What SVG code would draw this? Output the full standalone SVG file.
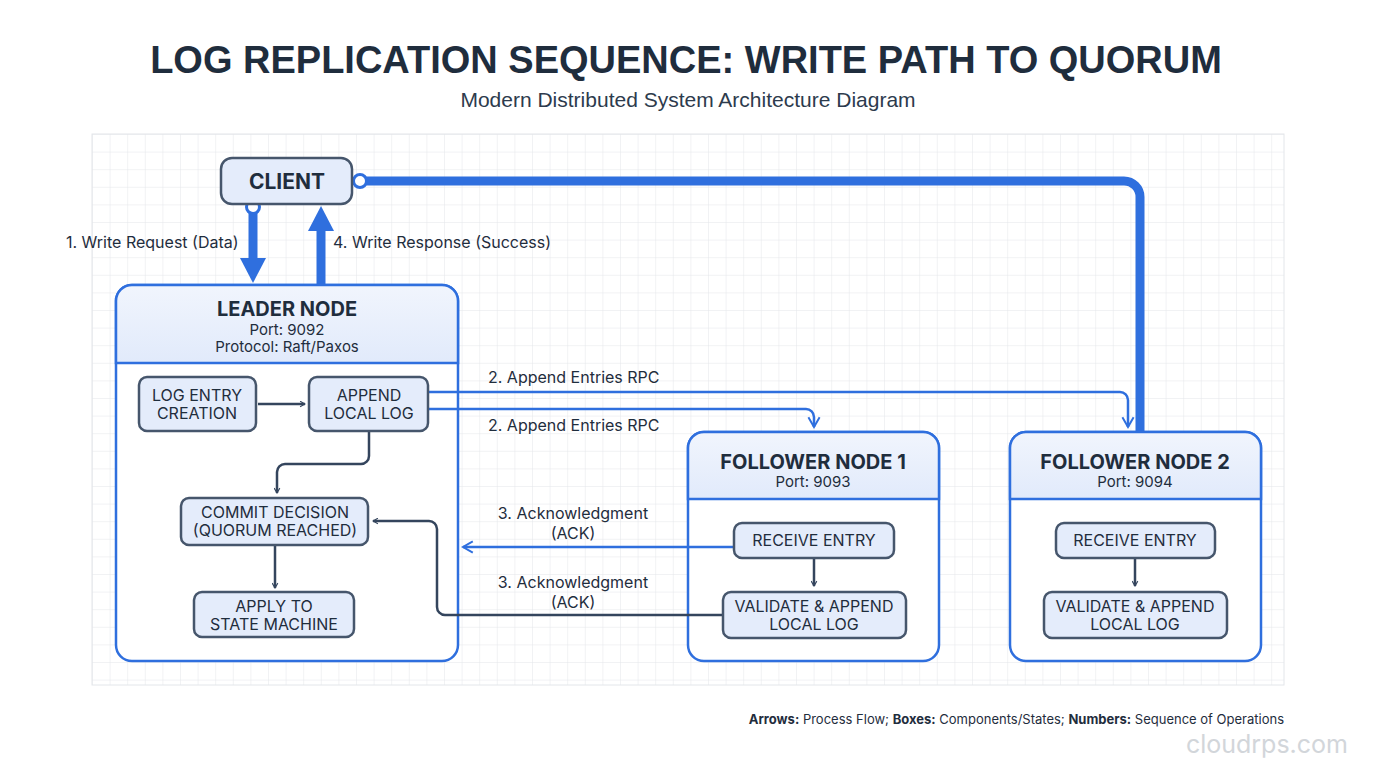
<svg xmlns="http://www.w3.org/2000/svg" width="1376" height="768" viewBox="0 0 1376 768">
<defs>
<pattern id="grid" x="92" y="134" width="17.6" height="17.6" patternUnits="userSpaceOnUse">
<path d="M17.6 0H0V17.6" fill="none" stroke="#e3e6ea" stroke-width="1"/>
</pattern>
<linearGradient id="hd" x1="0" y1="0" x2="0" y2="1"><stop offset="0" stop-color="#f1f5fd"/><stop offset="1" stop-color="#e1eafb"/></linearGradient>
<marker id="ad" viewBox="0 0 10 10" refX="8" refY="5" markerWidth="7" markerHeight="7" orient="auto" markerUnits="userSpaceOnUse"><path d="M1 1L8 5L1 9" fill="none" stroke="#34455d" stroke-width="1.6"/></marker>
<marker id="ab2" viewBox="0 0 10 10" refX="8" refY="5" markerWidth="14" markerHeight="14" orient="auto" markerUnits="userSpaceOnUse"><path d="M1 1L8 5L1 9" fill="none" stroke="#2f6fde" stroke-width="1.4"/></marker>
</defs>
<style>
.t{font-family:Inter,"Liberation Sans",sans-serif;fill:#1f2d3d}
.big{font-weight:700;font-size:20px}
.sub{font-size:15px}
.box{fill:#e4ecfb;stroke:#46566c;stroke-width:2.5}
.inner{font-size:16px;text-anchor:middle}
.lbl{font-size:16px}
.node{fill:#fff;stroke:#2f6fde;stroke-width:2.5}
</style>
<rect width="1376" height="768" fill="#fff"/>
<rect x="92" y="134" width="1192" height="551" fill="url(#grid)" stroke="#e3e6ea"/>
<text x="686" y="73" text-anchor="middle" font-family="'Liberation Sans',Arial,sans-serif" font-size="38" font-weight="700" fill="#1f2d3d">LOG REPLICATION SEQUENCE: WRITE PATH TO QUORUM</text>
<text x="688" y="107" text-anchor="middle" font-family="'Liberation Sans',Arial,sans-serif" font-size="21" fill="#2d3b4d">Modern Distributed System Architecture Diagram</text>

<g id="leader">
<rect class="node" x="116" y="285" width="342" height="376" rx="16"/>
<path d="M116 363V301a16 16 0 0 1 16-16h310a16 16 0 0 1 16 16v62z" fill="url(#hd)" stroke="#2f6fde" stroke-width="2.5"/>
<text class="t big" x="287" y="316" text-anchor="middle">LEADER NODE</text>
<text class="t sub" x="287" y="335" text-anchor="middle">Port: 9092</text>
<text class="t sub" x="287" y="352" text-anchor="middle">Protocol: Raft/Paxos</text>
</g>
<g id="follower1">
<rect class="node" x="688" y="432" width="251" height="229" rx="16"/>
<path d="M688 499V448a16 16 0 0 1 16-16h219a16 16 0 0 1 16 16v51z" fill="url(#hd)" stroke="#2f6fde" stroke-width="2.5"/>
<text class="t big" x="813" y="469" text-anchor="middle">FOLLOWER NODE 1</text>
<text class="t sub" x="813" y="487" text-anchor="middle">Port: 9093</text>
</g>
<g id="follower2">
<rect class="node" x="1010" y="432" width="251" height="229" rx="16"/>
<path d="M1010 499V448a16 16 0 0 1 16-16h219a16 16 0 0 1 16 16v51z" fill="url(#hd)" stroke="#2f6fde" stroke-width="2.5"/>
<text class="t big" x="1135" y="469" text-anchor="middle">FOLLOWER NODE 2</text>
<text class="t sub" x="1135" y="487" text-anchor="middle">Port: 9094</text>
</g>

<g id="connectors" fill="none">
<path d="M253 206V262" stroke="#2f6fde" stroke-width="9"/>
<path d="M240 258H266L253 283Z" fill="#2f6fde"/>
<path d="M321 285V228" stroke="#2f6fde" stroke-width="9"/>
<path d="M308 231H334L321 206Z" fill="#2f6fde"/>
<path d="M360 181H1124a16 16 0 0 1 16 16V432" stroke="#2f6fde" stroke-width="9"/>
<circle cx="253" cy="207" r="6.5" fill="#fff" stroke="#2f6fde" stroke-width="3"/>
<circle cx="360" cy="181" r="6.5" fill="#fff" stroke="#2f6fde" stroke-width="3"/>
<path d="M428 392H1120a8 8 0 0 1 8 8V427" stroke="#2f6fde" stroke-width="2.5" marker-end="url(#ab2)"/>
<path d="M428 409H806a8 8 0 0 1 8 8V427" stroke="#2f6fde" stroke-width="2.5" marker-end="url(#ab2)"/>
<path d="M258 404H305" stroke="#34455d" stroke-width="2.5" marker-end="url(#ad)"/>
<path d="M369 432V456a8 8 0 0 1-8 8H285a8 8 0 0 0-8 8V493" stroke="#34455d" stroke-width="2.5" marker-end="url(#ad)"/>
<path d="M275 545V588" stroke="#34455d" stroke-width="2.5" marker-end="url(#ad)"/>
<path d="M734 547H463" stroke="#2f6fde" stroke-width="2.5" marker-end="url(#ab2)"/>
<path d="M722 615H445a8 8 0 0 1-8-8V529a8 8 0 0 0-8-8H373" stroke="#34455d" stroke-width="2.5" marker-end="url(#ad)"/>
<path d="M814 559V586" stroke="#34455d" stroke-width="2.5" marker-end="url(#ad)"/>
<path d="M1135 559V586" stroke="#34455d" stroke-width="2.5" marker-end="url(#ad)"/>
</g>

<g id="client"><rect class="box" x="221" y="158" width="131" height="46" rx="11"/><text class="t" x="287" y="189" text-anchor="middle" font-size="21" font-weight="700">CLIENT</text></g>
<g id="logentry"><rect class="box" x="139" y="377" width="117" height="54" rx="8"/><text class="t inner" x="197" y="401">LOG ENTRY</text><text class="t inner" x="197" y="419">CREATION</text></g>
<g id="appendlocal"><rect class="box" x="309" y="377" width="119" height="54" rx="8"/><text class="t inner" x="369" y="401">APPEND</text><text class="t inner" x="369" y="419">LOCAL LOG</text></g>
<g id="commit"><rect class="box" x="181" y="498" width="187" height="47" rx="8"/><text class="t inner" x="275" y="518">COMMIT DECISION</text><text class="t inner" x="275" y="536">(QUORUM REACHED)</text></g>
<g id="apply"><rect class="box" x="194" y="592" width="160" height="45" rx="8"/><text class="t inner" x="274" y="612">APPLY TO</text><text class="t inner" x="274" y="630">STATE MACHINE</text></g>
<g id="recv1"><rect class="box" x="734" y="523" width="160" height="35" rx="8"/><text class="t inner" x="814" y="546">RECEIVE ENTRY</text></g>
<g id="val1"><rect class="box" x="723" y="592" width="183" height="46" rx="8"/><text class="t inner" x="814" y="612">VALIDATE &amp; APPEND</text><text class="t inner" x="814" y="630">LOCAL LOG</text></g>
<g id="recv2"><rect class="box" x="1056" y="523" width="159" height="35" rx="8"/><text class="t inner" x="1135" y="546">RECEIVE ENTRY</text></g>
<g id="val2"><rect class="box" x="1044" y="592" width="183" height="46" rx="8"/><text class="t inner" x="1135" y="612">VALIDATE &amp; APPEND</text><text class="t inner" x="1135" y="630">LOCAL LOG</text></g>

<g id="labels">
<text class="t lbl" x="66" y="248">1. Write Request (Data)</text>
<text class="t lbl" x="333" y="248">4. Write Response (Success)</text>
<text class="t lbl" x="488" y="383">2. Append Entries RPC</text>
<text class="t lbl" x="488" y="431">2. Append Entries RPC</text>
<text class="t lbl" x="573" y="519" text-anchor="middle">3. Acknowledgment</text>
<text class="t lbl" x="573" y="539" text-anchor="middle">(ACK)</text>
<text class="t lbl" x="573" y="588" text-anchor="middle">3. Acknowledgment</text>
<text class="t lbl" x="573" y="608" text-anchor="middle">(ACK)</text>
</g>
<text class="t" x="1284" y="724" text-anchor="end" font-size="13"><tspan font-weight="700">Arrows:</tspan> Process Flow; <tspan font-weight="700">Boxes:</tspan> Components/States; <tspan font-weight="700">Numbers:</tspan> Sequence of Operations</text>
<text x="1348" y="753" text-anchor="end" font-family="Inter,'Liberation Sans',sans-serif" font-size="25" fill="#c8ccd2" opacity="0.8">cloudrps.com</text>
</svg>
